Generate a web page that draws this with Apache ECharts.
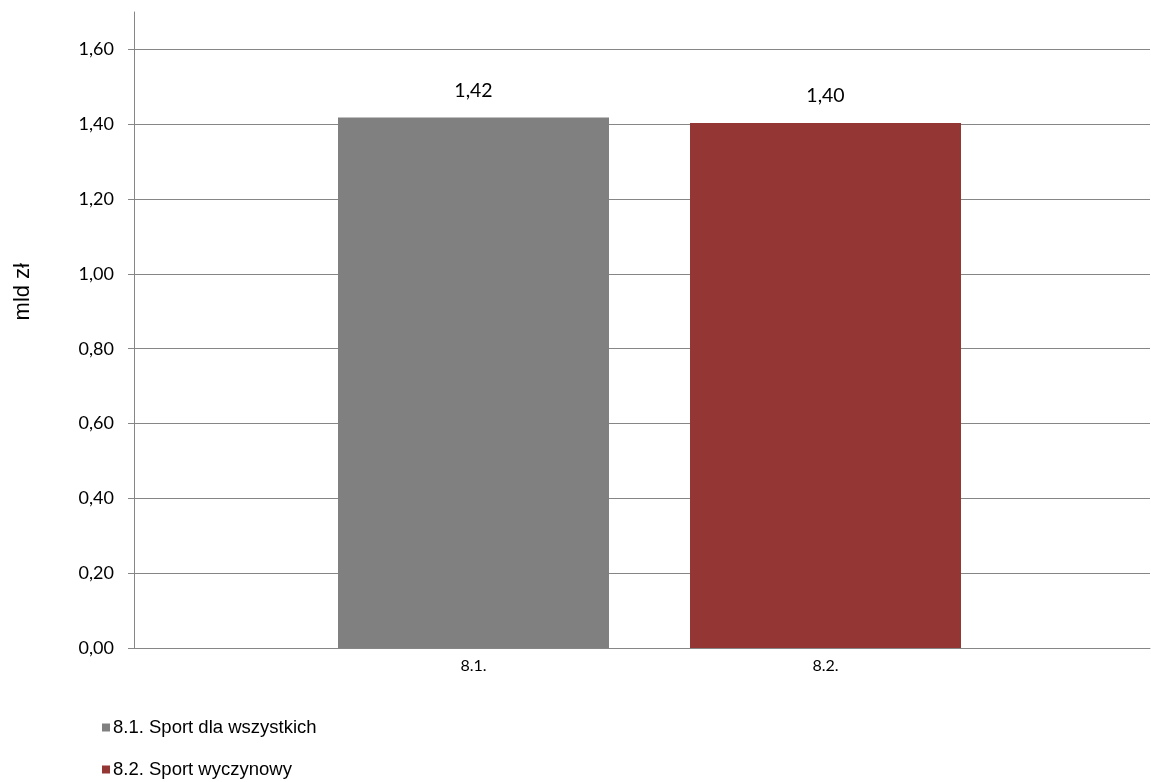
<!DOCTYPE html>
<html>
<head>
<meta charset="utf-8">
<script src="https://cdn.jsdelivr.net/npm/echarts@6/dist/echarts.min.js"></script>
<style>html,body{margin:0;padding:0;background:#fff;}#c{width:1151px;height:782px;}</style>
</head>
<body>
<div id="c"></div>
<script>
var categories = ['8.1.', '8.2.'];
var seriesNames = ['8.1. Sport dla wszystkich', '8.2. Sport wyczynowy'];
var seriesValues = [1.418, 1.403];
var seriesLabels = ['1,42', '1,40'];
var yTicks = [0, 0.2, 0.4, 0.6, 0.8, 1.0, 1.2, 1.4, 1.6];
var colors = ['#808080', '#943634'];

var chart = echarts.init(document.getElementById('c'));
var gridColor = '#868686';
var labelFont = 'Lato, "Open Sans", sans-serif';

var series = seriesNames.map(function (name, i) {
  var data = categories.map(function (c, j) { return j === i ? seriesValues[i] : '-'; });
  return {
    name: name,
    type: 'bar',
    xAxisIndex: 1,
    yAxisIndex: 1,
    barWidth: 271,
    barGap: '-100%',
    itemStyle: { color: colors[i] },
    data: data,
    label: {
      show: true,
      position: 'top',
      distance: 17,
      fontFamily: labelFont,
      fontSize: 19.5,
      color: '#000',
      formatter: function () { return seriesLabels[i]; }
    }
  };
});

chart.setOption({
  animation: false,
  backgroundColor: '#fff',
  color: colors,
  grid: [
    { left: 134, right: 1, top: 12, bottom: 134, containLabel: false },
    { left: 297.5, right: 149.5, top: 12, bottom: 134, containLabel: false }
  ],
  legend: {
    orient: 'vertical',
    left: 102,
    top: 718,
    height: 64,
    padding: 0,
    itemWidth: 8,
    itemHeight: 8,
    itemGap: 23,
    icon: 'rect',
    textStyle: { fontFamily: '"Liberation Sans", Arial, sans-serif', fontSize: 18.5, lineHeight: 19, color: '#000', padding: [0, 0, 0, -2] },
    data: seriesNames
  },
  xAxis: [
    {
      type: 'category', gridIndex: 0, data: [''],
      axisLine: { show: true, lineStyle: { color: gridColor, width: 1 } },
      axisTick: { show: false }, axisLabel: { show: false }
    },
    {
      type: 'category', gridIndex: 1, data: categories,
      axisLine: { show: false }, axisTick: { show: false },
      axisLabel: { fontFamily: labelFont, fontSize: 16, color: '#000', margin: 10 }
    }
  ],
  yAxis: [
    {
      type: 'value', gridIndex: 0, min: 0, max: 1.7, interval: 0.2,
      axisLine: { show: true, lineStyle: { color: gridColor, width: 1 } },
      axisTick: { show: true, length: 6, customValues: yTicks, lineStyle: { color: gridColor } },
      axisLabel: {
        customValues: yTicks,
        fontFamily: labelFont, fontSize: 18, color: '#000', margin: 20,
        formatter: function (v) { return v.toFixed(2).replace('.', ','); }
      },
      splitLine: { show: true, lineStyle: { color: gridColor, width: 1 } }
    },
    {
      type: 'value', gridIndex: 1, min: 0, max: 1.7, show: false,
      splitLine: { show: false }
    }
  ],
  graphic: [{
    type: 'text',
    left: 12,
    top: 263,
    rotation: Math.PI / 2,
    style: { text: 'mld zł', fontFamily: '"Liberation Sans", Arial, sans-serif', fontSize: 22, fill: '#000' }
  }],
  series: series
});
</script>
</body>
</html>
